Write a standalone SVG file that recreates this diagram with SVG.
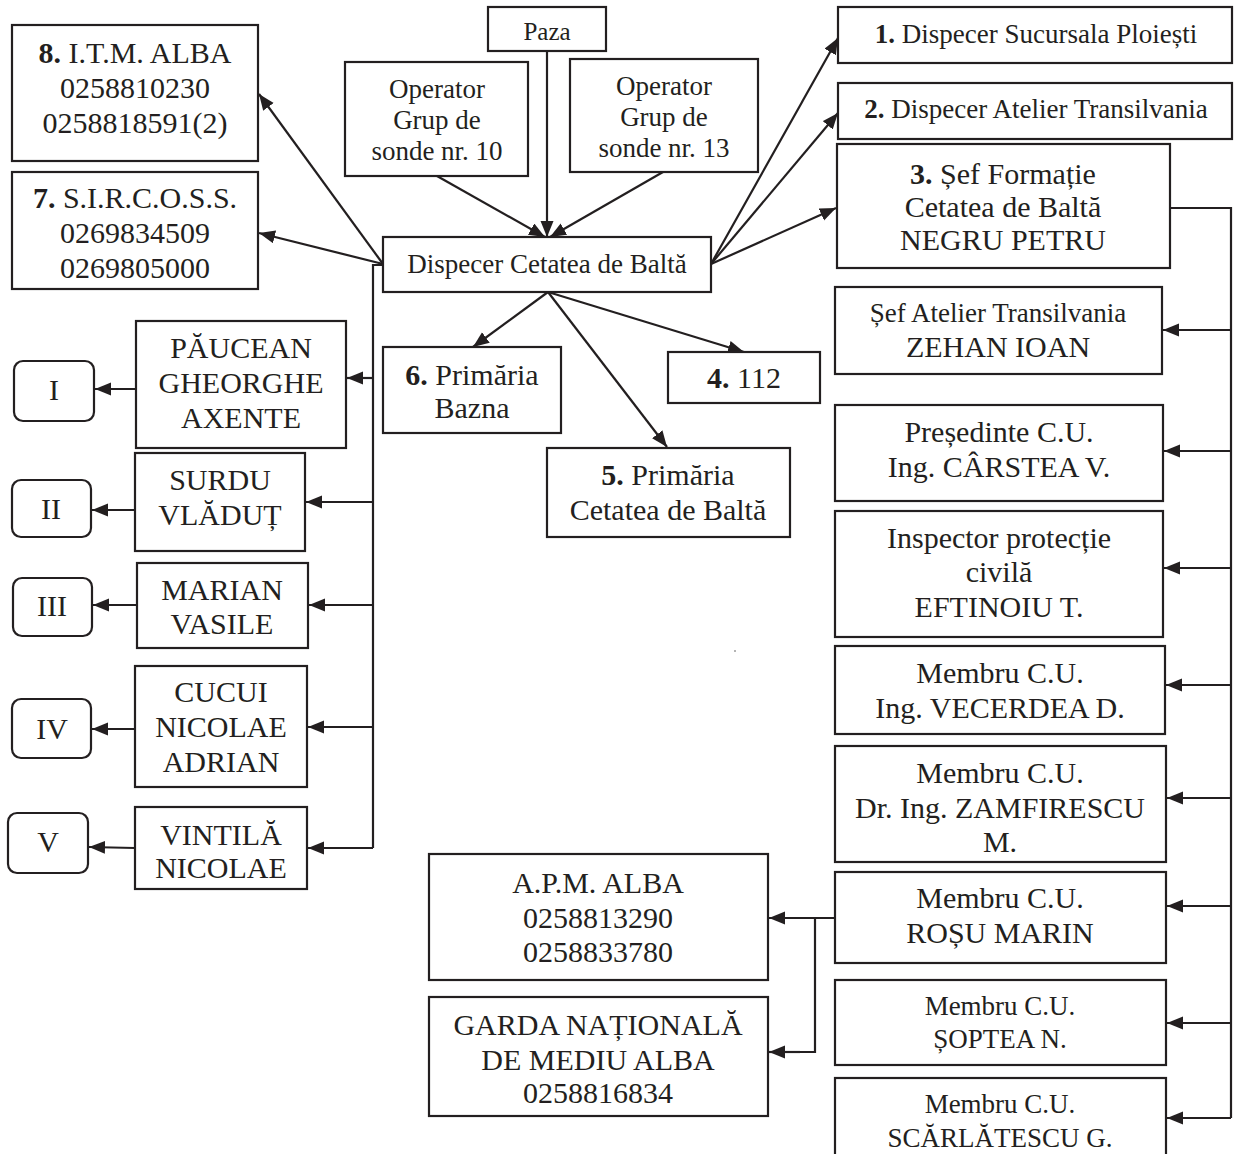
<svg xmlns="http://www.w3.org/2000/svg" width="1234" height="1154" viewBox="0 0 1234 1154">
<style>
  .box { fill: #fff; stroke: #231f20; stroke-width: 2.2; }
  .rbox { fill: #fff; stroke: #231f20; stroke-width: 2.2; }
  .t { font-family: "Liberation Serif", "Times New Roman", serif; fill: #231f20; text-anchor: middle; font-size: 30px; }
  .s27 { font-size: 27px; }
  .s25 { font-size: 25px; }
  .b { font-weight: bold; }
  .ln { fill: none; stroke: #231f20; stroke-width: 2.2; }
  .ar { fill: none; stroke: #231f20; stroke-width: 2.2; marker-end: url(#ah); }
</style>
<defs>
  <marker id="ah" markerUnits="userSpaceOnUse" markerWidth="17" markerHeight="14" refX="16" refY="6.5" orient="auto">
    <path d="M0,0 L16,6.5 L0,13 z" fill="#231f20"/>
  </marker>
</defs>
<rect width="1234" height="1154" fill="#fff"/>

<g id="connectors">
  <!-- into the dispatcher -->
  <line class="ar" x1="437" y1="176" x2="545" y2="237"/>
  <line class="ar" x1="547" y1="51" x2="547" y2="237"/>
  <line class="ar" x1="663" y1="172" x2="550" y2="237"/>
  <!-- dispatcher to the right -->
  <line class="ar" x1="711" y1="264" x2="838" y2="38"/>
  <line class="ar" x1="711" y1="264" x2="838" y2="113"/>
  <line class="ar" x1="711" y1="264" x2="836" y2="208"/>
  <!-- dispatcher to the left -->
  <line class="ar" x1="383" y1="264" x2="259" y2="94"/>
  <line class="ar" x1="383" y1="264" x2="259" y2="233"/>
  <!-- dispatcher downward -->
  <line class="ar" x1="548" y1="292" x2="473" y2="347"/>
  <line class="ar" x1="548" y1="292" x2="667" y2="447"/>
  <line class="ar" x1="548" y1="292" x2="744" y2="352"/>
  <!-- left bus -->
  <polyline class="ln" points="383,265 373,265 373,848"/>
  <line class="ar" x1="373" y1="378" x2="347" y2="378"/>
  <line class="ar" x1="373" y1="502" x2="306" y2="502"/>
  <line class="ar" x1="373" y1="605" x2="309" y2="605"/>
  <line class="ar" x1="373" y1="727" x2="308" y2="727"/>
  <line class="ar" x1="373" y1="848" x2="308" y2="848"/>
  <!-- teams to intervention groups -->
  <line class="ar" x1="136" y1="389" x2="95" y2="389"/>
  <line class="ar" x1="135" y1="510" x2="92" y2="510"/>
  <line class="ar" x1="137" y1="605" x2="93" y2="605"/>
  <line class="ar" x1="135" y1="729" x2="92" y2="729"/>
  <line class="ar" x1="135" y1="848" x2="89" y2="847"/>
  <!-- right bus -->
  <polyline class="ln" points="1170,208 1231,208 1231,1118"/>
  <line class="ar" x1="1231" y1="330" x2="1163" y2="330"/>
  <line class="ar" x1="1231" y1="451" x2="1164" y2="451"/>
  <line class="ar" x1="1231" y1="568" x2="1164" y2="568"/>
  <line class="ar" x1="1231" y1="685" x2="1166" y2="685"/>
  <line class="ar" x1="1231" y1="798" x2="1167" y2="798"/>
  <line class="ar" x1="1231" y1="906" x2="1167" y2="906"/>
  <line class="ar" x1="1231" y1="1023" x2="1167" y2="1023"/>
  <line class="ar" x1="1231" y1="1118" x2="1167" y2="1118"/>
  <!-- environment agencies -->
  <line class="ar" x1="835" y1="918" x2="769" y2="918"/>
  <polyline class="ln" points="815,918 815,1052 790,1052"/>
  <line class="ar" x1="800" y1="1052" x2="769" y2="1052"/>
</g>

<g id="n-itm"><rect class="box" x="12" y="25" width="246" height="136"/>
  <text class="t" x="135" y="63"><tspan class="b">8.</tspan> I.T.M. ALBA</text>
  <text class="t" x="135" y="98">0258810230</text>
  <text class="t" x="135" y="133">0258818591(2)</text></g>
<g id="n-sircoss"><rect class="box" x="12" y="172" width="246" height="117"/>
  <text class="t" x="135" y="208"><tspan class="b">7.</tspan> S.I.R.C.O.S.S.</text>
  <text class="t" x="135" y="243">0269834509</text>
  <text class="t" x="135" y="278">0269805000</text></g>
<g id="n-paza"><rect class="box" x="488" y="7" width="118" height="44"/>
  <text class="t s25" x="547" y="40">Paza</text></g>
<g id="n-op10"><rect class="box" x="345" y="62" width="183" height="114"/>
  <text class="t s27" x="437" y="98">Operator</text>
  <text class="t s27" x="437" y="129">Grup de</text>
  <text class="t s27" x="437" y="160">sonde nr. 10</text></g>
<g id="n-op13"><rect class="box" x="570" y="59" width="188" height="113"/>
  <text class="t s27" x="664" y="95">Operator</text>
  <text class="t s27" x="664" y="126">Grup de</text>
  <text class="t s27" x="664" y="157">sonde nr. 13</text></g>
<g id="n-dispecer"><rect class="box" x="383" y="237" width="328" height="55"/>
  <text class="t s27" x="547" y="273">Dispecer Cetatea de Baltă</text></g>
<g id="n-ploiesti"><rect class="box" x="838" y="7" width="394" height="56"/>
  <text class="t s27" x="1036" y="43"><tspan class="b">1.</tspan> Dispecer Sucursala Ploiești</text></g>
<g id="n-atelier"><rect class="box" x="838" y="83" width="394" height="56"/>
  <text class="t s27" x="1036" y="118"><tspan class="b">2.</tspan> Dispecer Atelier Transilvania</text></g>
<g id="n-formatie"><rect class="box" x="837" y="144" width="333" height="124"/>
  <text class="t" x="1003" y="184"><tspan class="b">3.</tspan> Șef Formație</text>
  <text class="t" x="1003" y="217">Cetatea de Baltă</text>
  <text class="t" x="1003" y="250">NEGRU PETRU</text></g>
<g id="n-sef-atelier"><rect class="box" x="835" y="287" width="327" height="87"/>
  <text class="t s27" x="998" y="322">Șef Atelier Transilvania</text>
  <text class="t" x="998" y="357">ZEHAN IOAN</text></g>
<g id="n-presedinte"><rect class="box" x="835" y="405" width="328" height="96"/>
  <text class="t" x="999" y="442">Președinte C.U.</text>
  <text class="t" x="999" y="477">Ing. CÂRSTEA V.</text></g>
<g id="n-inspector"><rect class="box" x="835" y="511" width="328" height="126"/>
  <text class="t" x="999" y="548">Inspector protecție</text>
  <text class="t" x="999" y="582">civilă</text>
  <text class="t" x="999" y="617">EFTINOIU T.</text></g>
<g id="n-vecerdea"><rect class="box" x="835" y="646" width="330" height="88"/>
  <text class="t" x="1000" y="683">Membru C.U.</text>
  <text class="t" x="1000" y="718">Ing. VECERDEA D.</text></g>
<g id="n-zamfirescu"><rect class="box" x="835" y="746" width="331" height="116"/>
  <text class="t" x="1000" y="783">Membru C.U.</text>
  <text class="t" x="1000" y="818">Dr. Ing. ZAMFIRESCU</text>
  <text class="t" x="1000" y="852">M.</text></g>
<g id="n-rosu"><rect class="box" x="835" y="872" width="331" height="91"/>
  <text class="t" x="1000" y="908">Membru C.U.</text>
  <text class="t" x="1000" y="943">ROȘU MARIN</text></g>
<g id="n-soptea"><rect class="box" x="835" y="980" width="331" height="85"/>
  <text class="t s27" x="1000" y="1015">Membru C.U.</text>
  <text class="t s27" x="1000" y="1048">ȘOPTEA N.</text></g>
<g id="n-scarlatescu"><rect class="box" x="835" y="1078" width="331" height="90"/>
  <text class="t s27" x="1000" y="1113">Membru C.U.</text>
  <text class="t s27" x="1000" y="1147">SCĂRLĂTESCU G.</text></g>
<g id="n-apm"><rect class="box" x="429" y="854" width="339" height="126"/>
  <text class="t" x="598" y="893">A.P.M. ALBA</text>
  <text class="t" x="598" y="928">0258813290</text>
  <text class="t" x="598" y="962">0258833780</text></g>
<g id="n-garda"><rect class="box" x="429" y="997" width="339" height="119"/>
  <text class="t" x="598" y="1035">GARDA NAȚIONALĂ</text>
  <text class="t" x="598" y="1070">DE MEDIU ALBA</text>
  <text class="t" x="598" y="1103">0258816834</text></g>
<g id="n-bazna"><rect class="box" x="383" y="347" width="178" height="86"/>
  <text class="t" x="472" y="385"><tspan class="b">6.</tspan> Primăria</text>
  <text class="t" x="472" y="418">Bazna</text></g>
<g id="n-112"><rect class="box" x="668" y="352" width="152" height="51"/>
  <text class="t" x="744" y="388"><tspan class="b">4.</tspan> 112</text></g>
<g id="n-primaria-cb"><rect class="box" x="547" y="448" width="243" height="89"/>
  <text class="t" x="668" y="485"><tspan class="b">5.</tspan> Primăria</text>
  <text class="t" x="668" y="520">Cetatea de Baltă</text></g>
<g id="n-paucean"><rect class="box" x="136" y="321" width="210" height="127"/>
  <text class="t" x="241" y="358">PĂUCEAN</text>
  <text class="t" x="241" y="393">GHEORGHE</text>
  <text class="t" x="241" y="428">AXENTE</text></g>
<g id="n-surdu"><rect class="box" x="135" y="453" width="170" height="98"/>
  <text class="t" x="220" y="490">SURDU</text>
  <text class="t" x="220" y="525">VLĂDUȚ</text></g>
<g id="n-marian"><rect class="box" x="137" y="563" width="171" height="85"/>
  <text class="t" x="222" y="600">MARIAN</text>
  <text class="t" x="222" y="634">VASILE</text></g>
<g id="n-cucui"><rect class="box" x="135" y="666" width="172" height="121"/>
  <text class="t" x="221" y="702">CUCUI</text>
  <text class="t" x="221" y="737">NICOLAE</text>
  <text class="t" x="221" y="772">ADRIAN</text></g>
<g id="n-vintila"><rect class="box" x="135" y="807" width="172" height="82"/>
  <text class="t" x="221" y="845">VINTILĂ</text>
  <text class="t" x="221" y="878">NICOLAE</text></g>
<g id="n-g1"><rect class="rbox" x="14" y="361" width="80" height="60" rx="9"/>
  <text class="t" x="54" y="400">I</text></g>
<g id="n-g2"><rect class="rbox" x="12" y="480" width="79" height="57" rx="9"/>
  <text class="t" x="51" y="519">II</text></g>
<g id="n-g3"><rect class="rbox" x="13" y="578" width="79" height="58" rx="9"/>
  <text class="t" x="52" y="616">III</text></g>
<g id="n-g4"><rect class="rbox" x="12" y="699" width="79" height="59" rx="9"/>
  <text class="t" x="52" y="739">IV</text></g>
<g id="n-g5"><rect class="rbox" x="8" y="813" width="80" height="60" rx="9"/>
  <text class="t" x="48" y="852">V</text></g>
<circle cx="735" cy="651" r="0.8" fill="#555"/>
</svg>
